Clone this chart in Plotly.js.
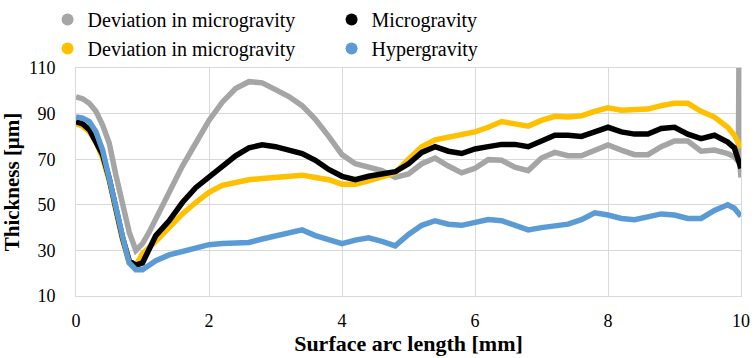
<!DOCTYPE html>
<html>
<head>
<meta charset="utf-8">
<script src="https://cdn.plot.ly/plotly-3.0.1.min.js"></script>
<style>html,body{margin:0;padding:0;background:#fff;}#chart{width:755px;height:358px;}</style>
</head>
<body>
<div id="chart"></div>
<script>
// Surface arc length [mm]
const xCommon = [0, 0.1, 0.2, 0.3, 0.4, 0.5, 0.6, 0.7, 0.8, 0.9, 1.0, 1.1, 1.2, 1.4, 1.6, 1.8, 2.0, 2.2, 2.4, 2.6, 2.8, 3.0, 3.2, 3.4, 3.6, 3.8, 4.0, 4.2, 4.4, 4.6, 4.8, 5.0, 5.2, 5.4, 5.6, 5.8, 6.0, 6.2, 6.4, 6.6, 6.8, 7.0, 7.2, 7.4, 7.6, 7.8, 8.0, 8.2, 8.4, 8.6, 8.8, 9.0, 9.2, 9.4, 9.6, 9.8, 9.9, 10.0];

const xGray = [0, 0.1, 0.2, 0.3, 0.4, 0.5, 0.6, 0.7, 0.8, 0.9, 1.0, 1.1, 1.2, 1.4, 1.6, 1.8, 2.0, 2.2, 2.4, 2.6, 2.8, 3.0, 3.2, 3.4, 3.6, 3.8, 4.0, 4.2, 4.4, 4.6, 4.8, 5.0, 5.2, 5.4, 5.6, 5.8, 6.0, 6.2, 6.4, 6.6, 6.8, 7.0, 7.2, 7.4, 7.6, 7.8, 8.0, 8.2, 8.4, 8.6, 8.8, 9.0, 9.2, 9.4, 9.6, 9.8, 9.9, 9.96, 9.97, 9.98, 10.0];
const grayDev = [97.3, 96.5, 94.5, 91, 85, 77, 63, 51, 38, 30, 33, 38, 44, 56, 67, 77, 87, 95, 101, 104, 103.5, 100.5, 97.5, 93.5, 87.5, 80, 72, 68, 66.5, 65, 62, 63.5, 68, 70.5, 67, 64, 66, 69.8, 69.5, 66.5, 65, 70.5, 73, 71.5, 71.5, 74, 76.3, 74, 72, 72, 75.5, 78, 78, 73.5, 74, 72.5, 71, 69, 118, 69, 62];

const microgravity = [86.5, 85.5, 83, 78, 72, 61.5, 48.5, 35.5, 25.5, 23.5, 24.5, 30, 36.5, 43, 51, 57.5, 62, 67, 71.5, 75, 76.3, 75.5, 74, 72.5, 69.5, 65.5, 62.5, 61, 62.5, 63.5, 64.5, 68, 73, 75.5, 73.5, 72.5, 74.5, 75.5, 76.5, 76.5, 75.5, 78, 80.5, 80.5, 80, 82, 84, 82, 81, 81, 83.5, 84, 81, 79, 80.5, 77.5, 75, 66];

const yellowDev = [85.5, 84.5, 82, 77.5, 70.5, 60.5, 47.5, 34.5, 24.5, 23.5, 28.5, 31, 34, 40, 46, 51, 55.5, 58.5, 60, 61, 61.5, 62, 62.5, 63, 62, 61, 59, 59, 60.5, 62.5, 64, 70, 75.5, 78.5, 79.5, 80.5, 82, 84, 86.5, 85.5, 84.5, 87, 88.8, 88.5, 89, 91, 92.5, 91.5, 91.5, 92, 93.5, 94.5, 94.5, 91, 88.5, 84, 80.5, 75];

const hypergravity = [88.5, 88, 86.5, 82, 74, 62.5, 49, 36, 24.5, 21.5, 21.5, 23.5, 25.5, 28, 29.5, 31, 32.5, 33, 33.5, 33.5, 35, 36.5, 38, 39, 36.5, 34.5, 33, 34.5, 35.5, 34, 32, 37, 41, 43, 41.5, 41, 42, 43.5, 43, 41, 39, 40, 41, 41.5, 43.5, 46.5, 45.5, 44, 43.5, 44.5, 46, 45.5, 44, 44, 47.5, 50, 48.5, 45];

const names = ["Deviation in microgravity", "Microgravity", "Deviation in microgravity", "Hypergravity"];
const colors = ["#a5a5a5", "#000000", "#ffc000", "#5b9bd5"];
const xTicks = [0, 2, 4, 6, 8, 10];
const yTicks = [10, 30, 50, 70, 90, 110];

const serif = "Liberation Serif";

function lineTrace(x, y, c) {
  return {x: x, y: y, type: "scatter", mode: "lines", line: {color: c, width: 5.5}, showlegend: false, hoverinfo: "skip"};
}
function legendTrace(name, c, rank) {
  return {x: [null], y: [null], type: "scatter", mode: "markers", name: name, marker: {color: c, size: 12}, legendrank: rank};
}

const data = [
  lineTrace(xGray, grayDev, colors[0]),
  lineTrace(xCommon, yellowDev, colors[2]),
  lineTrace(xCommon, microgravity, colors[1]),
  lineTrace(xCommon, hypergravity, colors[3]),
  legendTrace(names[0], colors[0], 1),
  legendTrace(names[1], colors[1], 2),
  legendTrace(names[2], colors[2], 3),
  legendTrace(names[3], colors[3], 4)
];

const layout = {
  width: 755, height: 358,
  margin: {l: 76, r: 14, t: 66, b: 62},
  paper_bgcolor: "#fff", plot_bgcolor: "#fff",
  font: {family: serif, color: "#000"},
  showlegend: true,
  legend: {
    orientation: "h", xref: "container", yref: "container",
    x: 0.063, y: 1.0, xanchor: "left", yanchor: "top",
    entrywidth: 239, font: {family: serif, size: 20, color: "#000"},
    bgcolor: "rgba(0,0,0,0)", tracegroupgap: 0, itemclick: false
  },
  xaxis: {
    range: [0, 10], tickvals: xTicks, ticktext: xTicks.map(String),
    showgrid: true, gridcolor: "#d9d9d9", gridwidth: 1,
    showline: true, linecolor: "#d9d9d9", linewidth: 1, mirror: true,
    zeroline: false, ticks: "", ticklabelstandoff: 8,
    tickfont: {family: serif, size: 18, color: "#000"},
    title: {text: "<b>Surface arc length [mm]</b>", font: {family: serif, size: 22, color: "#000"}, standoff: 4}
  },
  yaxis: {
    range: [10, 110], tickvals: yTicks, ticktext: yTicks.map(String),
    showgrid: true, gridcolor: "#d9d9d9", gridwidth: 1,
    showline: true, linecolor: "#d9d9d9", linewidth: 1, mirror: true,
    zeroline: false, ticks: "", ticklabelstandoff: 16,
    tickfont: {family: serif, size: 18, color: "#000"},
    title: {text: "<b>Thickness [μm]</b>", font: {family: serif, size: 21, color: "#000"}, standoff: 6}
  }
};

Plotly.newPlot("chart", data, layout, {staticPlot: true, displayModeBar: false});
</script>
</body>
</html>
